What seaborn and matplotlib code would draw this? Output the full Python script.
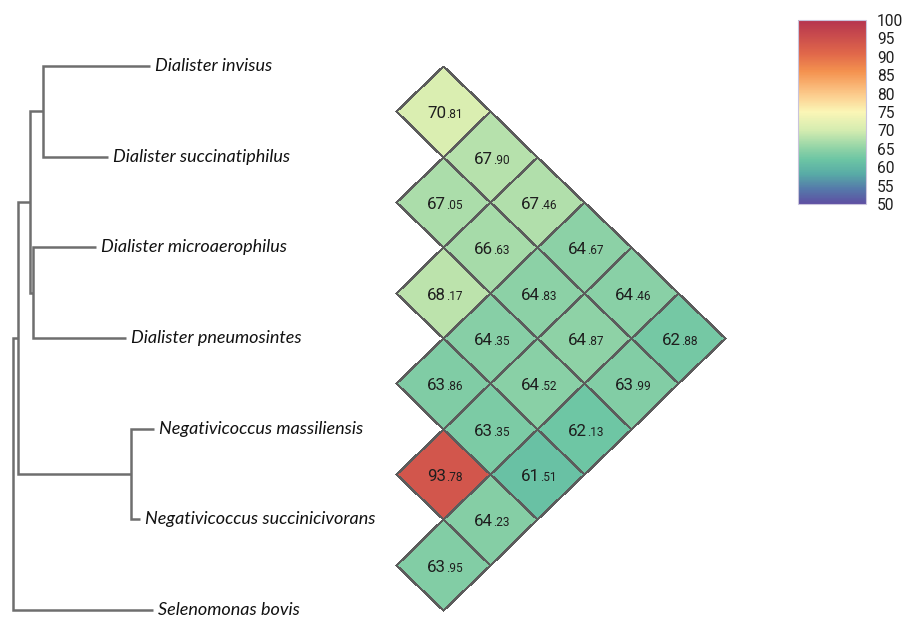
import numpy as np
import pandas as pd
import matplotlib
matplotlib.use("Agg")
import matplotlib.pyplot as plt
from matplotlib.colors import LinearSegmentedColormap, to_rgba
from matplotlib.transforms import Affine2D, offset_copy
import seaborn as sns

# ---- data -------------------------------------------------------------
species = [
    "Dialister invisus",
    "Dialister succinatiphilus",
    "Dialister microaerophilus",
    "Dialister pneumosintes",
    "Negativicoccus massiliensis",
    "Negativicoccus succinicivorans",
    "Selenomonas bovis",
]

# pairwise identity (%) against the species listed above each one
ident_succinatiphilus = [70.81]
ident_microaerophilus = [67.90, 67.05]
ident_pneumosintes = [67.46, 66.63, 68.17]
ident_massiliensis = [64.67, 64.83, 64.35, 63.86]
ident_succinicivorans = [64.46, 64.87, 64.52, 63.35, 93.78]
ident_bovis = [62.88, 63.99, 62.13, 61.51, 64.23, 63.95]

cbar_ticks = [50, 55, 60, 65, 70, 75, 80, 85, 90, 95, 100]

# colour ramp (value -> colour) used for the identity scale
ramp_values = [50, 54, 58, 62, 65, 70, 75, 80, 86, 91, 100]
ramp_colors = ["#5e4fa2", "#5579aa", "#58aaa6", "#6cc5a4", "#8fd2a6",
               "#d4ecb0", "#fbf6b6", "#fcc98a", "#f4924f", "#e0674a", "#b5344f"]

# tree: tip depths (same order as species) and internal clades
tip_depth = [0.137, 0.095, 0.083, 0.113, 0.141, 0.127, 0.140]
clades = {
    "invisus_succ": (0.030, [0, 1]),
    "micro_pneumo": (0.020, [2, 3]),
    "dialister": (0.017, ["invisus_succ", "micro_pneumo"]),
    "negativicoccus": (0.118, [4, 5]),
    "ingroup": (0.005, ["dialister", "negativicoccus"]),
    "root": (0.000, ["ingroup", 6]),
}
clade_order = ["invisus_succ", "micro_pneumo", "dialister",
               "negativicoccus", "ingroup", "root"]

# ---- matrix -----------------------------------------------------------
rows = [[], ident_succinatiphilus, ident_microaerophilus, ident_pneumosintes,
        ident_massiliensis, ident_succinicivorans, ident_bovis]
n = len(species)
mat = np.full((n, n), np.nan)
for j, vals in enumerate(rows):
    for i, v in enumerate(vals):
        mat[j, i] = v
df = pd.DataFrame(mat, index=species, columns=species)
mask = np.triu(np.ones((n, n), dtype=bool))

vmin, vmax = ramp_values[0], ramp_values[-1]
cmap = LinearSegmentedColormap.from_list(
    "identity",
    [((v - vmin) / (vmax - vmin), c) for v, c in zip(ramp_values, ramp_colors)])

# ---- figure -----------------------------------------------------------
W, H = 905, 617
fig = plt.figure(figsize=(W / 100, H / 100), dpi=100)
fig.patch.set_facecolor("white")

row_px = 90.67          # vertical distance between species
top_px = 66.0           # first species row
ylim = (0.5 + (H - top_px) / row_px, 0.5 - top_px / row_px)

num_font = ["Roboto", "DejaVu Sans"]
lab_font = ["Lato", "DejaVu Sans"]
line_col = "#6e6e6e"

# tree panel
ax_t = fig.add_axes([0, 0, 390 / W, 1])
ax_t.set_xlim(-0.013, 0.377)
ax_t.set_ylim(*ylim)
ax_t.axis("off")

pos = {}
for k in range(n):
    pos[k] = (tip_depth[k], k + 0.5)
for name in clade_order:
    d, kids = clades[name]
    (x1, y1), (x2, y2) = pos[kids[0]], pos[kids[1]]
    ax_t.plot([x1, d, d, x2], [y1, y1, y2, y2], color=line_col, lw=1.8,
              solid_joinstyle="miter", solid_capstyle="butt", clip_on=False)
    pos[name] = (d, (y1 + y2) / 2)

for k, name in enumerate(species):
    ax_t.text(tip_depth[k] + 0.005, k + 0.5, name, ha="left", va="center",
              fontsize=13, fontstyle="italic", family=lab_font, color="#111111")

# rotated half-matrix panel
ax_h = fig.add_axes([380 / W, 0, 380 / W, 1])
sns.heatmap(df, mask=mask, cmap=cmap, vmin=vmin, vmax=vmax,
            linewidths=0.9, linecolor="#5c5c5c", cbar=False, ax=ax_h)
mesh = ax_h.collections[0]
edge = np.tile(to_rgba("#5c5c5c"), (n * n, 1))
edge[mask.ravel()] = (0, 0, 0, 0)
mesh.set_edgecolor(edge)
rot = Affine2D(np.array([[-0.5, 0.5, 0.0], [0.5, 0.5, 0.0], [0.0, 0.0, 1.0]]))
trans = rot + ax_h.transData
mesh.set_transform(trans)
ax_h.set_xlim((380 - 396) / 94, (760 - 396) / 94)
ax_h.set_ylim(*ylim)
ax_h.axis("off")

t_num = offset_copy(trans, fig=fig, x=3, y=-7, units="dots")
for j in range(n):
    for i in range(j):
        a, b = f"{mat[j, i]:.2f}".split(".")
        ax_h.text(i + 0.5, j + 0.5, a, transform=t_num, ha="right",
                  va="baseline", fontsize=12.2, family=num_font, color="#1e1e1e")
        ax_h.text(i + 0.5, j + 0.5, "." + b, transform=t_num, ha="left",
                  va="baseline", fontsize=8.6, family=num_font, color="#1e1e1e")

# colour bar
cax = fig.add_axes([798 / W, 1 - 204 / H, 68 / W, 184 / H])
cb = fig.colorbar(mesh, cax=cax, ticks=cbar_ticks)
cb.outline.set_edgecolor("#c9c4dc")
cb.outline.set_linewidth(0.8)
cax.tick_params(length=0, pad=8)
for t in cax.get_yticklabels():
    t.set_family(num_font)
    t.set_fontsize(11.2)
    t.set_color("#1e1e1e")

fig.savefig("out.png", dpi=100, facecolor="white")
